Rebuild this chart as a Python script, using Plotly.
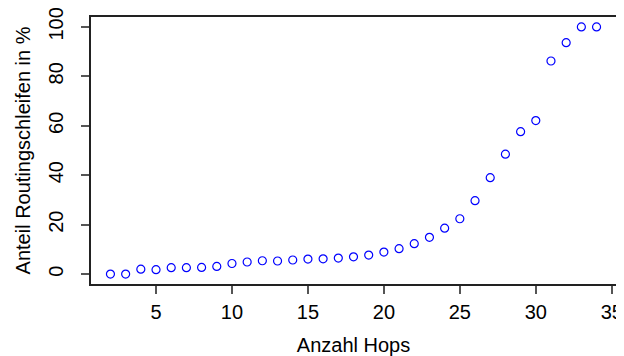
import plotly.graph_objects as go

hops = list(range(2, 35))
anteil = [0, 0, 2.0, 1.8, 2.6, 2.6, 2.7, 3.1, 4.3, 4.9, 5.4, 5.3, 5.7, 6.1, 6.2, 6.5,
          7.0, 7.7, 8.9, 10.3, 12.3, 14.9, 18.6, 22.4, 29.7, 39.0, 48.5, 57.6, 62.1,
          86.2, 93.6, 100, 100]
x_ticks = [5, 10, 15, 20, 25, 30, 35]
y_ticks = [0, 20, 40, 60, 80, 100]

font = dict(family="Liberation Sans, Arial, sans-serif", size=20, color="black")

fig = go.Figure(go.Scatter(
    x=hops, y=anteil, mode="markers",
    marker=dict(symbol="circle-open", size=8, color="blue", line=dict(width=1.2, color="blue")),
    showlegend=False,
))

# the page body adds an 8px margin, so the figure is 616x348 placed at (8, 8)
fig.update_layout(
    width=616, height=348,
    margin=dict(l=83, r=8, t=9, b=72),
    paper_bgcolor="white", plot_bgcolor="white",
    font=font,
    xaxis=dict(
        range=[0.72, 35.28], tickvals=x_ticks, ticktext=[str(v) for v in x_ticks],
        showgrid=False, zeroline=False, showline=True, mirror=True, automargin=False,
        linecolor="#222", linewidth=1.5, ticks="outside", ticklen=8, tickwidth=1.5,
        tickcolor="#555", ticklabelstandoff=1, ticklabeloverflow="allow",
        title=dict(text="Anzahl Hops", standoff=37, font=font),
    ),
    yaxis=dict(
        range=[-4, 104], tickvals=y_ticks, ticktext=[str(v) for v in y_ticks],
        tickangle=-90, automargin=False, ticklabeloverflow="allow",
        showgrid=False, zeroline=False, showline=True, mirror=True,
        linecolor="#222", linewidth=1.5, ticks="outside", ticklen=8, tickwidth=1.5,
        tickcolor="#555", ticklabelstandoff=10,
        title=dict(text="Anteil Routingschleifen in %", standoff=9, font=font),
    ),
)

fig.write_html("out.html")
